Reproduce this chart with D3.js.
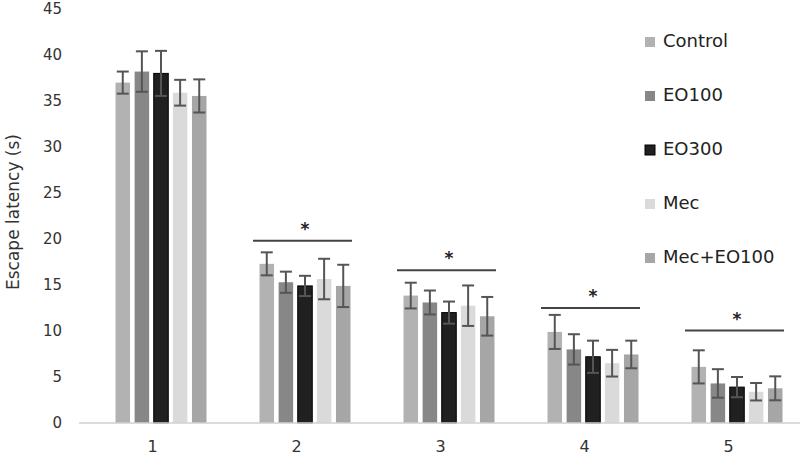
<!DOCTYPE html>
<html>
<head>
<meta charset="utf-8">
<script src="https://cdn.jsdelivr.net/npm/d3@7"></script>
<style>
  html, body { margin: 0; padding: 0; background: #fff; }
  svg { display: block; font-family: "DejaVu Sans", sans-serif; }
</style>
</head>
<body>
<svg id="chart" width="800" height="455"></svg>
<script>
// Days of training
const categories = ['1', '2', '3', '4', '5'];
const series = ['Control', 'EO100', 'EO300', 'Mec', 'Mec+EO100'];

// Mean escape latency (s) per day
const controlMeans = [37.0, 17.3, 13.85, 9.9, 6.1];
const eo100Means   = [38.2, 15.3, 13.1, 8.0, 4.3];
const eo300Means   = [38.0, 14.9, 12.0, 7.2, 3.9];
const mecMeans     = [35.9, 15.65, 12.75, 6.5, 3.4];
const mecEo100Means = [35.55, 14.9, 11.6, 7.45, 3.77];

// Error (+/-) per day
const controlErr  = [1.2, 1.25, 1.4, 1.85, 1.8];
const eo100Err    = [2.2, 1.15, 1.3, 1.65, 1.55];
const eo300Err    = [2.45, 1.1, 1.2, 1.75, 1.1];
const mecErr      = [1.4, 2.2, 2.2, 1.45, 0.95];
const mecEo100Err = [1.8, 2.3, 2.1, 1.5, 1.3];

// Significance bars (*)
const sigCategories = ['2', '3', '4', '5'];
const sigLevels = [19.8, 16.6, 12.5, 10.05];

const yTicks = [0, 5, 10, 15, 20, 25, 30, 35, 40, 45];

const colors = ['#b2b2b2', '#878787', '#202020', '#dadada', '#a6a6a6'];
const allMeans = [controlMeans, eo100Means, eo300Means, mecMeans, mecEo100Means];
const allErr = [controlErr, eo100Err, eo300Err, mecErr, mecEo100Err];

const rows = [];
series.forEach((s, si) => {
    categories.forEach((c, ci) => {
        rows.push({ series: s, si, cat: c, mean: allMeans[si][ci], err: allErr[si][ci] });
    });
});

const svg = d3.select('#chart');

const x = d3.scaleBand().domain(categories).range([89, 809]);
const x1 = d3.scaleBand().domain(series).range([-45.5, 45.5]).paddingInner(0.24);
const y = d3.scaleLinear().domain([0, 45]).range([423, 9]);

// Y tick labels (no axis line)
svg.append('g').selectAll('text').data(yTicks).join('text')
    .attr('x', 62).attr('y', d => y(d))
    .attr('text-anchor', 'end').attr('dominant-baseline', 'middle')
    .style('font-size', '15px').style('fill', '#333')
    .text(d => d);

// Axis title
svg.append('text')
    .attr('transform', `translate(19,${y(22.5) - 4}) rotate(-90)`)
    .attr('text-anchor', 'middle')
    .style('font-size', '17px').style('fill', '#333')
    .text('Escape latency (s)');

// Bars
const barG = svg.append('g');
barG.selectAll('rect').data(rows).join('rect')
    .attr('x', d => x(d.cat) + x.bandwidth() / 2 + x1(d.series))
    .attr('width', x1.bandwidth())
    .attr('y', d => y(d.mean))
    .attr('height', d => y(0) - y(d.mean))
    .attr('fill', d => colors[d.si])
    .attr('stroke', d => d.si === 2 ? '#000' : 'none')
    .attr('stroke-width', 1);

// Baseline
svg.append('line')
    .attr('x1', 79).attr('x2', 800)
    .attr('y1', y(0)).attr('y2', y(0))
    .attr('stroke', '#d0d0d0').attr('stroke-width', 1.5);

// Error bars
const errG = svg.append('g').attr('stroke', '#555').attr('stroke-width', 2);
const cx = d => x(d.cat) + x.bandwidth() / 2 + x1(d.series) + x1.bandwidth() / 2;
errG.selectAll('.ev').data(rows).join('line').attr('class', 'ev')
    .attr('x1', cx).attr('x2', cx)
    .attr('y1', d => y(d.mean + d.err)).attr('y2', d => y(d.mean - d.err));
errG.selectAll('.et').data(rows).join('line').attr('class', 'et')
    .attr('x1', d => cx(d) - 6).attr('x2', d => cx(d) + 6)
    .attr('y1', d => y(d.mean + d.err)).attr('y2', d => y(d.mean + d.err));
errG.selectAll('.eb').data(rows).join('line').attr('class', 'eb')
    .attr('x1', d => cx(d) - 6).attr('x2', d => cx(d) + 6)
    .attr('y1', d => y(d.mean - d.err)).attr('y2', d => y(d.mean - d.err));

// X tick labels
svg.append('g').selectAll('text').data(categories).join('text')
    .attr('x', d => x(d) + x.bandwidth() / 2 - 8.5)
    .attr('y', 447)
    .attr('text-anchor', 'middle').attr('dominant-baseline', 'middle')
    .style('font-size', '16px').style('fill', '#333')
    .text(d => d);

// Significance lines and stars
const sig = sigCategories.map((c, i) => ({ cat: c, level: sigLevels[i] }));
svg.append('g').selectAll('line').data(sig).join('line')
    .attr('x1', d => x(d.cat) + x.bandwidth() / 2 - 52)
    .attr('x2', d => x(d.cat) + x.bandwidth() / 2 + 47)
    .attr('y1', d => y(d.level)).attr('y2', d => y(d.level))
    .attr('stroke', '#444').attr('stroke-width', 2);
svg.append('g').selectAll('text').data(sig).join('text')
    .attr('x', d => x(d.cat) + x.bandwidth() / 2)
    .attr('y', d => y(d.level) - 6)
    .attr('text-anchor', 'middle')
    .style('font-size', '17px').style('font-weight', 'bold').style('fill', '#222')
    .text('*');

// Legend
const legend = svg.append('g').selectAll('g').data(series).join('g')
    .attr('transform', (d, i) => `translate(645,${42 + i * 54})`);
legend.append('rect')
    .attr('x', 0).attr('y', -5).attr('width', 10).attr('height', 10)
    .attr('fill', (d, i) => colors[i])
    .attr('stroke', (d, i) => i === 2 ? '#000' : 'none');
legend.append('text')
    .attr('x', 18).attr('y', 0)
    .attr('dominant-baseline', 'middle')
    .style('font-size', '18px').style('fill', '#222')
    .text(d => d);
</script>
</body>
</html>
